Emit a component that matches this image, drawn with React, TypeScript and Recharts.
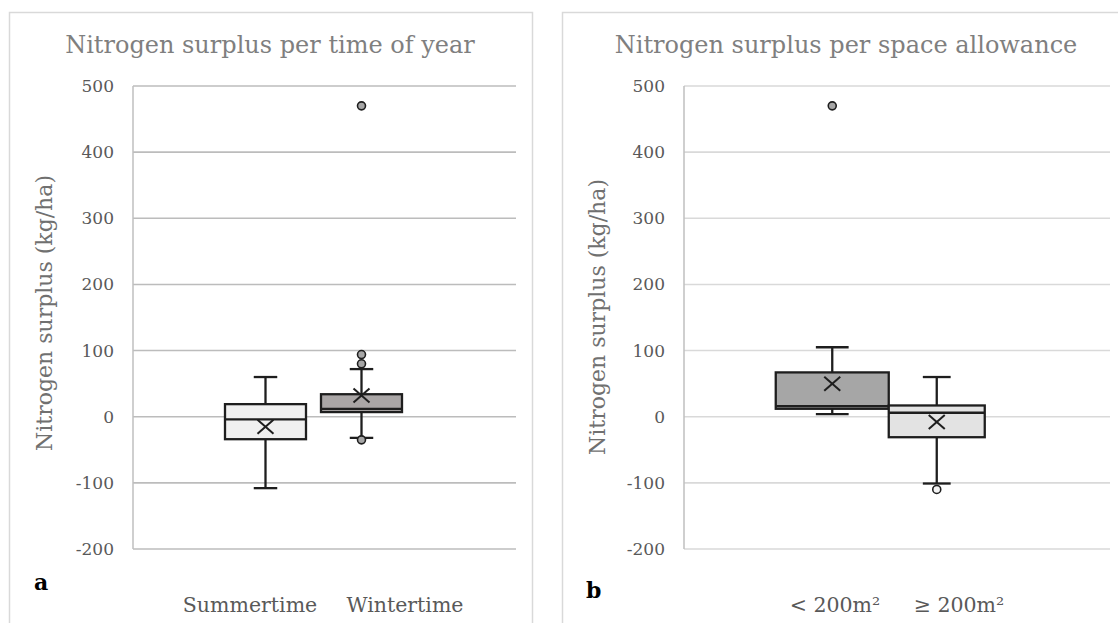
import { ComposedChart, Bar, XAxis, YAxis, CartesianGrid } from 'recharts';

// panel a: time of year
const categoriesA = ['Summertime', 'Wintertime'];
const lowA = [-108, -32];
const q1A = [-34, 7];
const medianA = [-4, 12];
const q3A = [19, 34];
const highA = [60, 72];
const meanA = [-15, 32];
const outliersA = [[], [470, 94, 80, -35]];

// panel b: space allowance
const categoriesB = ['< 200m²', '≥ 200m²'];
const lowB = [4, -101];
const q1B = [12, -31];
const medianB = [16, 6];
const q3B = [67, 17];
const highB = [105, 60];
const meanB = [50, -8];
const outliersB = [[470], [-110]];

const yTicks = [-200, -100, 0, 100, 200, 300, 400, 500];

const FONT = '"DejaVu Serif", serif';
const INK = '#1e1e1e';

type Row = {
  name: string;
  low: number;
  q1: number;
  median: number;
  q3: number;
  high: number;
  mean: number;
  outliers: number[];
};

const buildRows = (
  cats: string[], low: number[], q1: number[], median: number[], q3: number[],
  high: number[], mean: number[], outliers: number[][],
): Row[] =>
  cats.map((name, i) => ({
    name, low: low[i], q1: q1[i], median: median[i], q3: q3[i], high: high[i], mean: mean[i], outliers: outliers[i],
  }));

const rowsA = buildRows(categoriesA, lowA, q1A, medianA, q3A, highA, meanA, outliersA);
const rowsB = buildRows(categoriesB, lowB, q1B, medianB, q3B, highB, meanB, outliersB);

function BoxShape(props: any) {
  const { x, y, width, height, index, payload, boxWidths, fills, outlierFills } = props;
  const d: Row = payload;
  const top = Math.min(y, y + height);
  const h = Math.abs(height);
  const k = h / (d.high - d.low);
  const py = (v: number) => top + (d.high - v) * k;
  const cx = x + width / 2;
  const bw = boxWidths[index];
  const cap = bw * 0.29;
  const m = 8;
  const sw = 2.3;
  return (
    <g>
      <line x1={cx} x2={cx} y1={py(d.high)} y2={py(d.q3)} stroke={INK} strokeWidth={sw} />
      <line x1={cx} x2={cx} y1={py(d.q1)} y2={py(d.low)} stroke={INK} strokeWidth={sw} />
      <line x1={cx - cap / 2} x2={cx + cap / 2} y1={py(d.high)} y2={py(d.high)} stroke={INK} strokeWidth={sw} />
      <line x1={cx - cap / 2} x2={cx + cap / 2} y1={py(d.low)} y2={py(d.low)} stroke={INK} strokeWidth={sw} />
      <rect x={cx - bw / 2} y={py(d.q3)} width={bw} height={py(d.q1) - py(d.q3)}
        fill={fills[index]} stroke={INK} strokeWidth={sw} />
      <line x1={cx - bw / 2} x2={cx + bw / 2} y1={py(d.median)} y2={py(d.median)} stroke={INK} strokeWidth={sw} />
      <line x1={cx - m} x2={cx + m} y1={py(d.mean) - m + 1} y2={py(d.mean) + m - 1} stroke={INK} strokeWidth={2} />
      <line x1={cx - m} x2={cx + m} y1={py(d.mean) + m - 1} y2={py(d.mean) - m + 1} stroke={INK} strokeWidth={2} />
      {d.outliers.map((o) => (
        <circle key={o} cx={cx} cy={py(o)} r={4} fill={outlierFills[index]} stroke={INK} strokeWidth={1.6} />
      ))}
    </g>
  );
}

interface PanelProps {
  rows: Row[];
  width: number;
  margin: { top: number; right: number; bottom: number; left: number };
  padding: { left: number; right: number };
  boxWidths: number[];
  fills: string[];
  outlierFills: string[];
  gridColor: string;
}

function BoxPanel({ rows, width, margin, padding, boxWidths, fills, outlierFills, gridColor }: PanelProps) {
  return (
    <ComposedChart width={width} height={623} data={rows} margin={margin}>
      <CartesianGrid vertical={false} stroke={gridColor} strokeWidth={1.6} />
      <XAxis dataKey="name" hide padding={padding} />
      <YAxis
        domain={[-200, 500]}
        ticks={yTicks}
        width={60}
        tickLine={false}
        tickSize={0}
        tickMargin={19}
        axisLine={{ stroke: '#bfbfbf', strokeWidth: 1.5 }}
        tick={{ fill: '#595959', fontSize: 17, fontFamily: FONT }}
      />
      <Bar
        dataKey={(d: Row) => [d.low, d.high]}
        barSize={40}
        isAnimationActive={false}
        shape={(p: any) => <BoxShape {...p} boxWidths={boxWidths} fills={fills} outlierFills={outlierFills} />}
      />
    </ComposedChart>
  );
}

export default function App() {
  const titleStyle = { fill: '#7f7f7f', fontSize: 24, fontFamily: FONT };
  const labelStyle = { fill: '#707070', fontSize: 22, fontFamily: FONT };
  const legendStyle = { fill: '#595959', fontSize: 20.5, fontFamily: FONT };
  const letterStyle = { fill: '#000', fontSize: 22, fontFamily: FONT, fontWeight: 700 };
  return (
    <div style={{ position: 'absolute', left: 0, top: 0, width: 1118, height: 623, background: '#fff', overflow: 'hidden' }}>
      <svg width={1118} height={623} style={{ position: 'absolute', left: 0, top: 0 }}>
        <rect x={9.5} y={12.5} width={523} height={640} fill="none" stroke="#d9d9d9" strokeWidth={1.5} />
        <rect x={562.5} y={12.5} width={600} height={640} fill="none" stroke="#d9d9d9" strokeWidth={1.5} />
        <text x={270} y={53} textAnchor="middle" style={titleStyle}>Nitrogen surplus per time of year</text>
        <text x={846} y={53} textAnchor="middle" style={titleStyle}>Nitrogen surplus per space allowance</text>
        <text x={44} y={313} textAnchor="middle" dominantBaseline="central" transform="rotate(-90 44 313)" style={labelStyle}>
          Nitrogen surplus (kg/ha)
        </text>
        <text x={597} y={317} textAnchor="middle" dominantBaseline="central" transform="rotate(-90 597 317)" style={labelStyle}>
          Nitrogen surplus (kg/ha)
        </text>
        <text x={34} y={590} style={letterStyle}>a</text>
        <text x={586} y={598} style={letterStyle}>b</text>
        <text x={250} y={612} textAnchor="middle" style={legendStyle}>{categoriesA[0]}</text>
        <text x={405} y={612} textAnchor="middle" style={legendStyle}>{categoriesA[1]}</text>
        <text x={835} y={612} textAnchor="middle" style={legendStyle}>{categoriesB[0]}</text>
        <text x={959} y={612} textAnchor="middle" style={legendStyle}>{categoriesB[1]}</text>
      </svg>
      <div style={{ position: 'absolute', left: 0, top: 0 }}>
        <BoxPanel
          rows={rowsA}
          width={560}
          margin={{ top: 86, right: 44, bottom: 74, left: 73 }}
          padding={{ left: 84.5, right: 106.5 }}
          boxWidths={[81, 81]}
          fills={['#f0f0f0', '#aaa6a6']}
          outlierFills={['#f0f0f0', '#a6a6a6']}
          gridColor="#bcbcbc"
        />
      </div>
      <div style={{ position: 'absolute', left: 560, top: 0 }}>
        <BoxPanel
          rows={rowsB}
          width={558}
          margin={{ top: 86, right: 8, bottom: 74, left: 64 }}
          padding={{ left: 96.25, right: 120.75 }}
          boxWidths={[113, 96]}
          fills={['#a6a6a6', '#e3e3e3']}
          outlierFills={['#a6a6a6', '#f4f4f4']}
          gridColor="#d9d9d9"
        />
      </div>
    </div>
  );
}
